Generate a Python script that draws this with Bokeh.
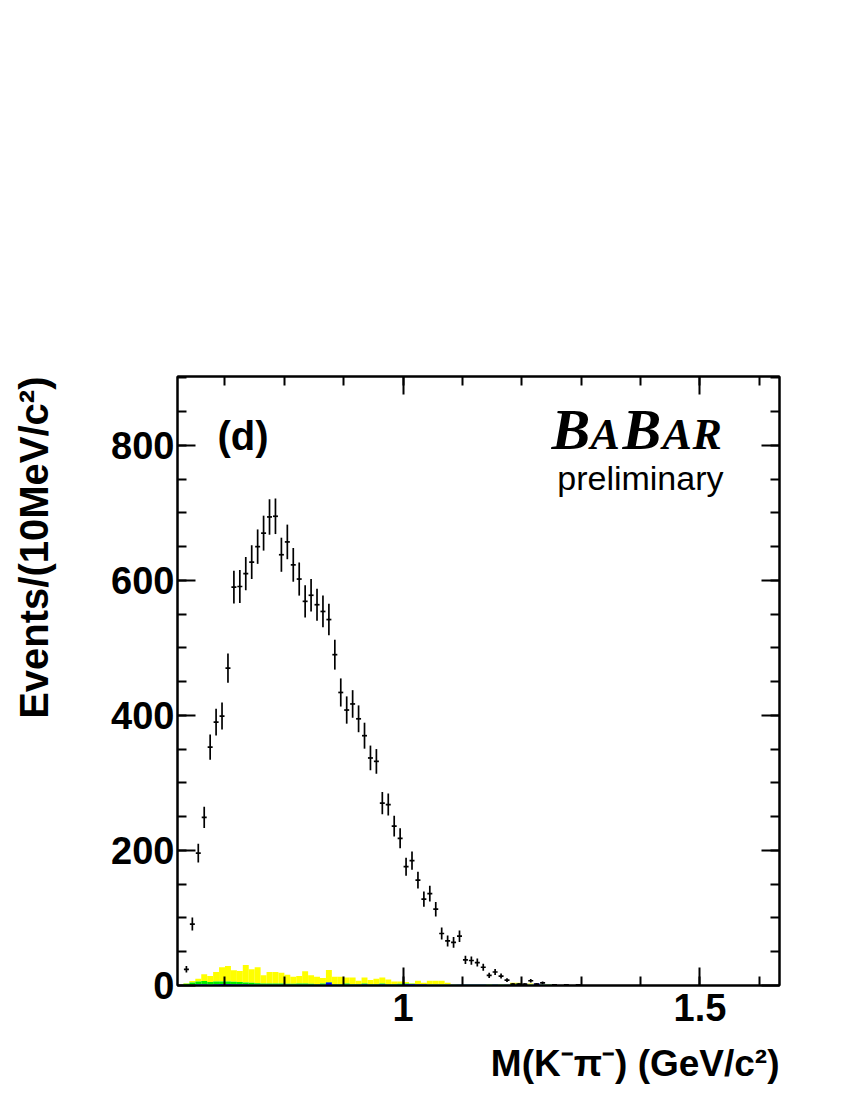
import math
from bokeh.plotting import figure
from bokeh.models import Range1d, LinearAxis, FixedTicker, Label, Title, CustomJSTickFormatter, ColumnDataSource
from bokeh.embed import file_html
from bokeh.resources import INLINE

# ---------------- data ----------------
x_lo = 0.63      # lower edge of first bin (GeV/c^2)
bin_w = 0.01     # 10 MeV bins

counts = [24, 91, 196, 249, 353, 390, 399, 470, 590, 591,
          610, 627, 650, 670, 694, 695, 638, 657, 623, 602,
          569, 578, 564, 554, 542, 490, 434, 408, 417, 395,
          370, 337, 332, 270, 268, 236, 218, 176, 185, 156,
          128, 136, 113, 77, 66, 64, 73, 38, 37, 34,
          27, 15, 20, 14, 8, 2, 2, 2, 7, 2,
          4, 0, 1, 0, 1, 0, 1]

bkg_blue = [0.5, 1, 1.5, 1.5, 1, 1.5, 2, 2, 1.5, 1.5,
            1.5, 1, 1, 1, 1, 1, 1, 1, 1, 1,
            1, 1, 1, 1, 4.5, 1, 1, 1, 1, 1,
            1.5, 1, 1, 1.5, 1, 1, 1, 2, 2, 1.5,
            1.5, 1, 1, 1, 1, 1, 1, 1, 1, 1,
            1, 0.5, 1, 0.5, 1, 1, 1.5, 1, 1, 3,
            1, 0.5]
bkg_green = [2, 3.5, 4.5, 5, 4, 4.5, 4, 4, 4, 3.5,
             3, 3, 2.5, 2, 2, 2, 2, 1.5, 1.5, 2,
             2, 1.5, 1, 2, 0.5, 1, 1, 2, 1, 1,
             1.5, 1, 1, 1.5, 1, 1, 1.5, 1, 0.5, 0.5,
             0.5, 0.5, 0.5, 0.5, 0.5, 0.5, 0.5, 0.5, 0.5, 0.5,
             0.5, 0.5, 0.5, 0.5, 0.5, 1, 1, 0.5, 0.5, 0,
             0.5, 0.5]
bkg_yellow = [1, 2, 4, 10, 9, 14, 21, 23, 17, 16.5,
              26, 20, 23.5, 12, 17, 17, 16, 13.5, 10.5, 11,
              18, 12.5, 11, 8, 18, 11, 11, 9, 10, 5,
              9, 6, 8, 9, 7, 4, 3.5, 2, 1, 5,
              2, 5.5, 5.5, 5.5, 2.5, 0.5, 0, 0, 0, 0,
              0, 0, 0, 0, 0.5, 2, 1.5, 0.5, 1.5, 0,
              0.5, 0]

x_ticks = [1.0, 1.5]
x_minor = [0.7, 0.8, 0.9, 1.0, 1.1, 1.2, 1.3, 1.4, 1.5, 1.6]
y_ticks = [0, 200, 400, 600, 800]
y_minor = [50, 100, 150, 200, 250, 300, 350, 400, 450, 500, 550, 600, 650, 700, 750, 800, 850, 900]

# ---------------- layout helpers (page pixel -> data) ----------------
X0, X1 = 0.62, 1.634
Y0, Y1 = 0.0, 902.0
FL, FT, FW, FH = 177, 376, 602, 609   # frame in page pixels
BASE_K = 0.37                          # baseline correction (fraction of font size)

def dx(px):
    return X0 + (px - FL) * (X1 - X0) / FW

def dy(py):
    return Y0 + (FT + FH - py) * (Y1 - Y0) / FH

p = figure(frame_width=FW, frame_height=FH,
           x_range=Range1d(X0, X1), y_range=Range1d(Y0, Y1),
           output_backend="svg", toolbar_location=None,
           min_border_left=FL, min_border_top=FT,
           min_border_right=55, min_border_bottom=115)
p.grid.visible = False
p.outline_line_color = "black"
p.outline_line_width = 2
p.background_fill_color = "white"
p.border_fill_color = "white"

# ---------------- stacked background histograms ----------------
nb = len(bkg_blue)
lefts = [x_lo + i * bin_w for i in range(nb)]
rights = [l + bin_w for l in lefts]
b_top = list(bkg_blue)
g_top = [b + g for b, g in zip(bkg_blue, bkg_green)]
y_top = [g + y for g, y in zip(g_top, bkg_yellow)]

p.quad(left=lefts, right=rights, bottom=g_top, top=y_top, fill_color="#ffff00", line_color=None)
p.quad(left=lefts, right=rights, bottom=b_top, top=g_top, fill_color="#00ee00", line_color=None)
p.quad(left=lefts, right=rights, bottom=[0] * nb, top=b_top, fill_color="#0000ff", line_color=None)

# ---------------- data points with errors ----------------
xs, ys, lo, hi = [], [], [], []
for i, c in enumerate(counts):
    if c <= 0:
        continue
    xc = x_lo + (i + 0.5) * bin_w
    e = math.sqrt(c)
    xs.append(xc); ys.append(c); lo.append(c - e); hi.append(c + e)

src = ColumnDataSource(dict(x=xs, y=ys, lo=lo, hi=hi,
                            xl=[x - 0.0042 for x in xs], xr=[x + 0.0042 for x in xs]))
p.segment(x0="x", y0="lo", x1="x", y1="hi", source=src, line_color="black", line_width=1.7)
p.segment(x0="xl", y0="y", x1="xr", y1="y", source=src, line_color="black", line_width=1.7)

# ---------------- axes ----------------
xb = p.xaxis[0]
yl = p.yaxis[0]
xb.ticker = FixedTicker(ticks=x_ticks, minor_ticks=x_minor)
yl.ticker = FixedTicker(ticks=y_ticks, minor_ticks=y_minor)
xb.formatter = CustomJSTickFormatter(code="return String(tick);")
yl.formatter = CustomJSTickFormatter(code="return String(tick);")

xa = LinearAxis(ticker=FixedTicker(ticks=x_ticks, minor_ticks=x_minor),
                formatter=CustomJSTickFormatter(code="return '';"))
yr = LinearAxis(ticker=FixedTicker(ticks=y_ticks, minor_ticks=y_minor),
                formatter=CustomJSTickFormatter(code="return '';"))
p.add_layout(xa, "above")
p.add_layout(yr, "right")

for ax in (xb, yl, xa, yr):
    ax.major_tick_in = 18
    ax.major_tick_out = 0
    ax.minor_tick_in = 9
    ax.minor_tick_out = 0
    ax.axis_line_width = 2
    ax.axis_line_color = "black"
    ax.major_tick_line_width = 2
    ax.minor_tick_line_width = 2
    ax.major_tick_line_color = "black"
    ax.minor_tick_line_color = "black"
    ax.major_label_text_font = "Liberation Sans"
    ax.major_label_text_font_style = "bold"
    ax.major_label_text_font_size = "38px"
    ax.major_label_text_color = "black"

xb.major_label_standoff = 8
yl.major_label_standoff = 3

# spacer axis labels that only push the titles outwards
for ax, so in ((xb, 11), (yl, 47)):
    ax.axis_label = " "
    ax.axis_label_text_font_size = "1px"
    ax.axis_label_standoff = so

# ---------------- axis titles ----------------
x_title = Title(text="M(K\u207b\u03c0\u207b) (GeV/c\u00b2)", align="right",
                text_font="Liberation Sans", text_font_style="bold",
                text_font_size="37px", text_color="black", standoff=4)
p.add_layout(x_title, "below")
y_title = Title(text="Events/(10MeV/c\u00b2)", align="right",
                text_font="Liberation Sans", text_font_style="bold",
                text_font_size="40px", text_color="black", standoff=2)
p.add_layout(y_title, "left")

# ---------------- in-frame texts ----------------
def add_text(txt, px, py, size, font="Liberation Sans", style="normal", align="left"):
    p.add_layout(Label(x=dx(px), y=dy(py - BASE_K * size), text=txt,
                       text_align=align, text_baseline="alphabetic",
                       text_font=font, text_font_style=style,
                       text_font_size=f"{size}px", text_color="black"))

add_text("(d)", 217, 450, 40, style="bold")
babar = [("B", 551, 58), ("A", 590, 44), ("B", 622, 58), ("A", 662, 44), ("R", 692, 44)]
for ch, px, sz in babar:
    add_text(ch, px, 450, sz, font="Liberation Serif", style="bold italic")
add_text("preliminary", 723, 490.5, 34, align="right")

open("out.html", "w").write(file_html(p, INLINE))
